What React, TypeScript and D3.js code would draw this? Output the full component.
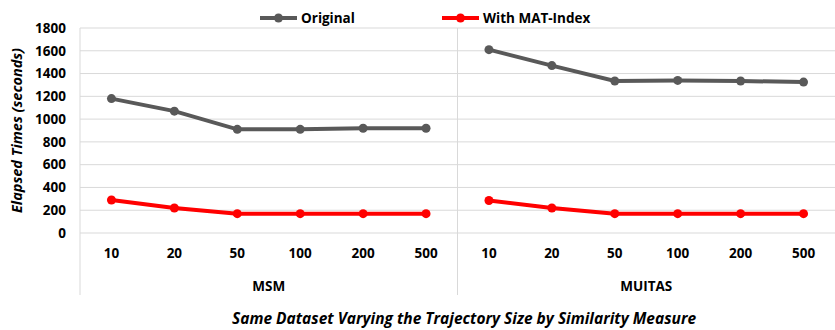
import React, { useEffect, useRef } from "react";
import * as d3 from "d3";

const groups = ["MSM", "MUITAS"];
const sizes = ["10", "20", "50", "100", "200", "500"];
const originalMSM = [1180, 1070, 910, 910, 920, 920];
const originalMUITAS = [1610, 1470, 1335, 1340, 1335, 1325];
const matMSM = [290, 220, 170, 170, 170, 170];
const matMUITAS = [285, 220, 170, 170, 170, 170];
const yTicks = [0, 200, 400, 600, 800, 1000, 1200, 1400, 1600, 1800];

const FONT = "'Open Sans', sans-serif";

const App = () => {
  const ref = useRef<SVGSVGElement>(null);

  useEffect(() => {
    const svg = d3.select(ref.current);
    svg.selectAll("*").remove();
    const width = 835;
    const height = 330;
    const margin = { top: 28, right: 0, bottom: 97, left: 80 };

    const y = d3.scaleLinear().domain([0, 1800]).range([height - margin.bottom, margin.top]);
    const xGroup = d3.scaleBand().domain(groups).range([margin.left, width - margin.right]);
    const xInner = d3.scaleBand().domain(sizes).range([0, xGroup.bandwidth()]);
    const px = (g: string, s: string) => xGroup(g)! + xInner(s)! + xInner.bandwidth() / 2;

    // gridlines
    svg
      .append("g")
      .selectAll("line")
      .data(yTicks)
      .join("line")
      .attr("x1", margin.left)
      .attr("x2", width)
      .attr("y1", (d) => y(d))
      .attr("y2", (d) => y(d))
      .attr("stroke", "#d9d9d9")
      .attr("stroke-width", 1);

    // vertical separators
    const sepBottom = 295;
    svg
      .append("g")
      .selectAll("line")
      .data(groups)
      .join("line")
      .attr("x1", (g) => xGroup(g)!)
      .attr("x2", (g) => xGroup(g)!)
      .attr("y1", margin.top)
      .attr("y2", sepBottom)
      .attr("stroke", "#d9d9d9")
      .attr("stroke-width", 1);

    // y tick labels
    svg
      .append("g")
      .selectAll("text")
      .data(yTicks)
      .join("text")
      .attr("x", 66)
      .attr("y", (d) => y(d))
      .attr("dy", "0.35em")
      .attr("text-anchor", "end")
      .style("font-family", FONT)
      .style("font-weight", "bold")
      .style("font-size", "13.5px")
      .style("fill", "#000")
      .text((d) => d);

    // y axis title
    svg
      .append("text")
      .attr("transform", `translate(22, ${(y(0) + y(1800)) / 2}) rotate(-90)`)
      .attr("text-anchor", "middle")
      .style("font-family", FONT)
      .style("font-weight", "bold")
      .style("font-style", "italic")
      .style("font-size", "14.5px")
      .text("Elapsed Times (seconds)");

    // x category labels
    groups.forEach((g) => {
      svg
        .append("g")
        .selectAll("text")
        .data(sizes)
        .join("text")
        .attr("x", (s) => px(g, s))
        .attr("y", 258)
        .attr("text-anchor", "middle")
        .style("font-family", FONT)
        .style("font-weight", "bold")
        .style("font-size", "13.5px")
        .text((s) => s);
      svg
        .append("text")
        .attr("x", xGroup(g)! + xGroup.bandwidth() / 2)
        .attr("y", 291)
        .attr("text-anchor", "middle")
        .style("font-family", FONT)
        .style("font-weight", "bold")
        .style("font-size", "13.5px")
        .text(g);
    });

    // bottom title
    svg
      .append("text")
      .attr("x", 464)
      .attr("y", 324)
      .attr("text-anchor", "middle")
      .style("font-family", FONT)
      .style("font-weight", "bold")
      .style("font-style", "italic")
      .style("font-size", "15.5px")
      .text("Same Dataset Varying the Trajectory Size by Similarity Measure");

    const series = [
      { color: "#595959", data: { MSM: originalMSM, MUITAS: originalMUITAS } },
      { color: "#ff0000", data: { MSM: matMSM, MUITAS: matMUITAS } },
    ];

    const line = d3
      .line<[number, number]>()
      .x((d) => d[0])
      .y((d) => d[1]);

    series.forEach((ser) => {
      groups.forEach((g) => {
        const vals = (ser.data as any)[g] as number[];
        const pts: [number, number][] = sizes.map((s, i) => [px(g, s), y(vals[i])]);
        svg
          .append("path")
          .attr("d", line(pts))
          .attr("fill", "none")
          .attr("stroke", ser.color)
          .attr("stroke-width", 4);
        svg
          .append("g")
          .selectAll("circle")
          .data(pts)
          .join("circle")
          .attr("cx", (d) => d[0])
          .attr("cy", (d) => d[1])
          .attr("r", 4.5)
          .attr("fill", ser.color);
      });
    });

    // legend
    const legend = [
      { label: "Original", color: "#595959", x: 260 },
      { label: "With MAT-Index", color: "#ff0000", x: 442 },
    ];
    legend.forEach((l) => {
      const gl = svg.append("g").attr("transform", `translate(${l.x}, 18)`);
      gl.append("line")
        .attr("x1", 0)
        .attr("x2", 37)
        .attr("stroke", l.color)
        .attr("stroke-width", 4);
      gl.append("circle").attr("cx", 18.5).attr("r", 4.5).attr("fill", l.color);
      gl.append("text")
        .attr("x", 41)
        .attr("dy", "0.35em")
        .style("font-family", FONT)
        .style("font-weight", "bold")
        .style("font-size", "13.5px")
        .text(l.label);
    });
  }, []);

  return (
    <svg
      ref={ref}
      width={835}
      height={330}
      style={{ position: "absolute", left: 0, top: 0, background: "#fff" }}
    />
  );
};

export default App;
